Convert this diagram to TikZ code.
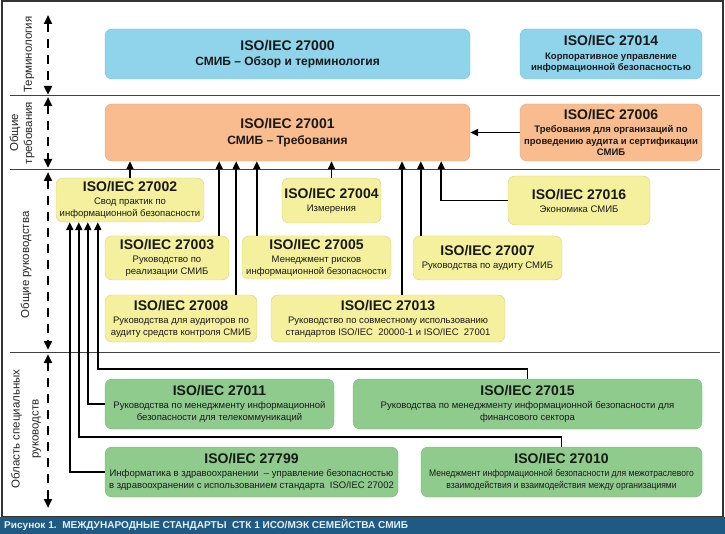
\documentclass[tikz,border=0pt]{standalone}
\usepackage{fontspec}
\setmainfont{Liberation Sans}
\usepackage{graphicx}
\usepackage{tikz}
\usetikzlibrary{arrows.meta}
\definecolor{termblue}{HTML}{8FD4EA}
\definecolor{reqorange}{HTML}{F9BC8E}
\definecolor{guideyellow}{HTML}{F4F09E}
\definecolor{specgreen}{HTML}{8FCB8D}
\definecolor{capblue}{HTML}{1F5A85}
\definecolor{capwhite}{HTML}{E4F0F8}
\newcommand{\iso}[1]{{\fontsize{14}{16}\selectfont\bfseries ISO/IEC #1}}

\begin{document}
\begin{tikzpicture}[x=1pt,y=-1pt,
  box/.style={draw=#1!88!black, fill=#1, rounded corners=7pt, align=center,
    inner sep=0pt, text=black!90},
  term/.style={box=termblue, font=\bfseries\fontsize{9.5}{11.5}\selectfont},
  req/.style={box=reqorange, font=\bfseries\fontsize{9.5}{11.5}\selectfont},
  guide/.style={box=guideyellow, font=\fontsize{9.5}{12}\selectfont},
  spec/.style={box=specgreen, font=\fontsize{9.5}{12}\selectfont},
  wh/.style 2 args={minimum width=#1pt, minimum height=#2pt},
  link/.style={line width=1.8pt, -{Triangle[length=8pt,width=7pt]}},
  span/.style={line width=2.6pt, dash pattern=on 9pt off 7pt,
    {Triangle[length=9pt,width=8pt]}-{Triangle[length=9pt,width=8pt]}},
  side/.style={font=\fontsize{11.5}{14}\selectfont, align=center, text=black!85}]
  \useasboundingbox (0,0) rectangle (725,534);
  \fill[white] (0,0) rectangle (725,534);
  \draw[line width=1.5pt, black!80] (2,1) rectangle (723,517);

  % sections
  \foreach \y in {96,170,352}
    \draw[line width=1pt, black!75] (10,\y) -- (720,\y);
  \foreach \a/\b in {15/95,97/168,172/350,354/508}
    \draw[span] (48,\a) -- (48,\b);
  \node[side, rotate=90] (lterm) at (29,54.5) {Терминология};
  \node[side, rotate=90] (lreq) at (22,133) {Общие\\требования};
  \node[side, rotate=90] (lguide) at (26,265) {Общие руководства};
  \node[side, rotate=90] (lspec) at (26,429) {Область специальных\\[5pt]руководств};

  % boxes
  \node[term, wh={365}{50}] (n27000) at (287.5,54)
    {\iso{27000}\\[4pt]{\fontsize{12}{13}\selectfont СМИБ – Обзор и терминология}};
  \node[term, wh={182}{50}] (n27014) at (611,54)
    {\iso{27014}\\[2pt]Корпоративное управление\\информационной безопасностью};
  \node[req, wh={365}{57}] (n27001) at (287.5,132.5)
    {\iso{27001}\\[4pt]{\fontsize{12}{13}\selectfont СМИБ – Требования}};
  \node[req, wh={182}{57}] (n27006) at (611,132.5)
    {\iso{27006}\\[2pt]Требования для организаций по\\проведению аудита и сертификации\\СМИБ};
  \node[guide, wh={148}{44}] (n27002) at (130,200)
    {\iso{27002}\\[1pt]Свод практик по\\информационной безопасности};
  \node[guide, wh={99}{45}] (n27004) at (331.5,200.5)
    {\iso{27004}\\[1pt]Измерения};
  \node[guide, wh={142}{49}] (n27016) at (579,200.5)
    {\iso{27016}\\[1pt]Экономика СМИБ};
  \node[guide, wh={124}{44}] (n27003) at (167,258)
    {\iso{27003}\\[1pt]Руководство по\\реализации СМИБ};
  \node[guide, wh={149}{43}] (n27005) at (316.5,257.5)
    {\iso{27005}\\[1pt]Менеджмент рисков\\информационной безопасности};
  \node[guide, wh={149}{44}] (n27007) at (487.5,258)
    {\iso{27007}\\[1pt]Руководства по аудиту СМИБ};
  \node[guide, wh={152}{47}] (n27008) at (181,318.5)
    {\iso{27008}\\[1pt]Руководства для аудиторов по\\аудиту средств контроля СМИБ};
  \node[guide, wh={234}{47}] (n27013) at (388,318.5)
    {\iso{27013}\\[1pt]Руководство по совместному использованию\\стандартов ISO/IEC\ \ 20000-1 и ISO/IEC\ \ 27001};
  \node[spec, wh={229}{50}] (n27011) at (219.5,404)
    {\iso{27011}\\[1pt]Руководства по менеджменту информационной\\безопасности для телекоммуникаций};
  \node[spec, wh={349}{50}] (n27015) at (527.5,404)
    {\iso{27015}\\[1pt]Руководства по менеджменту информационной безопасности для\\финансового сектора};
  \node[spec, wh={293}{50}] (n27799) at (251.5,472)
    {\iso{27799}\\[1pt]Информатика в здравоохранении\ \ – управление безопасностью\\в здравоохранении с использованием стандарта\ \ ISO/IEC 27002};
  \node[spec, wh={281}{50}] (n27010) at (561.5,472)
    {\iso{27010}\\[1pt]\scalebox{0.9}[1]{Менеджмент информационной безопасности для межотраслевого}\\\scalebox{0.9}[1]{взаимодействия и взаимодействия между организациями}};

  % links to 27001
  \draw[link] (n27006.west) -- (n27001.east);
  \draw[link] (n27002.north) -- (n27002.north |- n27001.south);
  \draw[link] ([xshift=-10pt]n27003.north east) coordinate (c27003) -- (c27003 |- n27001.south);
  \draw[link] ([xshift=-21pt]n27008.north east) coordinate (c27008) -- (c27008 |- n27001.south);
  \draw[link] ([xshift=15pt]n27005.north west) coordinate (c27005) -- (c27005 |- n27001.south);
  \draw[link] (n27004.north) -- (n27004.north |- n27001.south);
  \draw[link] ([xshift=14pt]n27013.north) coordinate (c27013) -- (c27013 |- n27001.south);
  \draw[link] ([xshift=8pt]n27007.north west) coordinate (c27007) -- (c27007 |- n27001.south);
  \draw[link] (n27016.west) -| ([xshift=-29pt]n27001.south east);

  % links to 27002
  \draw[link] (n27015.north) -- ++(0,-10) -| ([xshift=42pt]n27002.south west);
  \draw[link] (n27011.west) -| ([xshift=32pt]n27002.south west);
  \draw[link] (n27010.north) -- ++(0,-10) -| ([xshift=23pt]n27002.south west);
  \draw[link] (n27799.west) -| ([xshift=14pt]n27002.south west);

  % caption
  \fill[capblue] (0,517) rectangle (725,534);
  \node[anchor=west, inner sep=0pt, text=capwhite] (caption) at (4,525.5)
    {\resizebox{404pt}{9pt}{\bfseries Рисунок 1.\ \ МЕЖДУНАРОДНЫЕ СТАНДАРТЫ\ \ СТК 1 ИСО/МЭК СЕМЕЙСТВА СМИБ}};
\end{tikzpicture}
\end{document}
